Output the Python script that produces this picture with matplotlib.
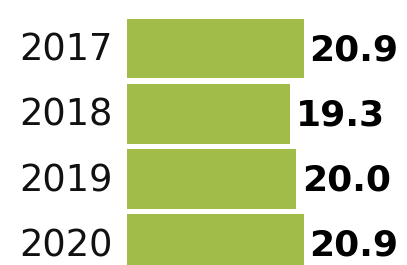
import matplotlib
matplotlib.use("Agg")
import matplotlib.pyplot as plt

years = ["2017", "2018", "2019", "2020"]
values = [20.9, 19.3, 20.0, 20.9]
value_labels = ["20.9", "19.3", "20.0", "20.9"]

W, H = 407, 265
fig = plt.figure(figsize=(W / 100, H / 100), dpi=100)
ax = fig.add_axes([0, 0, 1, 1])

x0_px = 127
scale = 177 / 20.9  # px per unit
pitch = 65.17
y0_px = 48.5

ax.set_xlim(-x0_px / scale, (W - x0_px) / scale)
ax.set_ylim((H - y0_px) / pitch, -y0_px / pitch)
ax.axis("off")

pos = list(range(len(years)))
ax.barh(pos, values, height=0.92, color="#a2bc4a", left=0)

for i, (y, v, lab) in enumerate(zip(years, values, value_labels)):
    ax.annotate(y, xy=(0, i), xytext=(-10, -1.2), textcoords="offset points",
                ha="right", va="center", fontsize=26.5, color="#111111",
                family="DejaVu Sans")
    ax.annotate(lab, xy=(v, i), xytext=(4, -1.2), textcoords="offset points",
                ha="left", va="center", fontsize=26, fontweight="bold",
                color="#000000", family="DejaVu Sans")

fig.savefig("out.png", dpi=100)
